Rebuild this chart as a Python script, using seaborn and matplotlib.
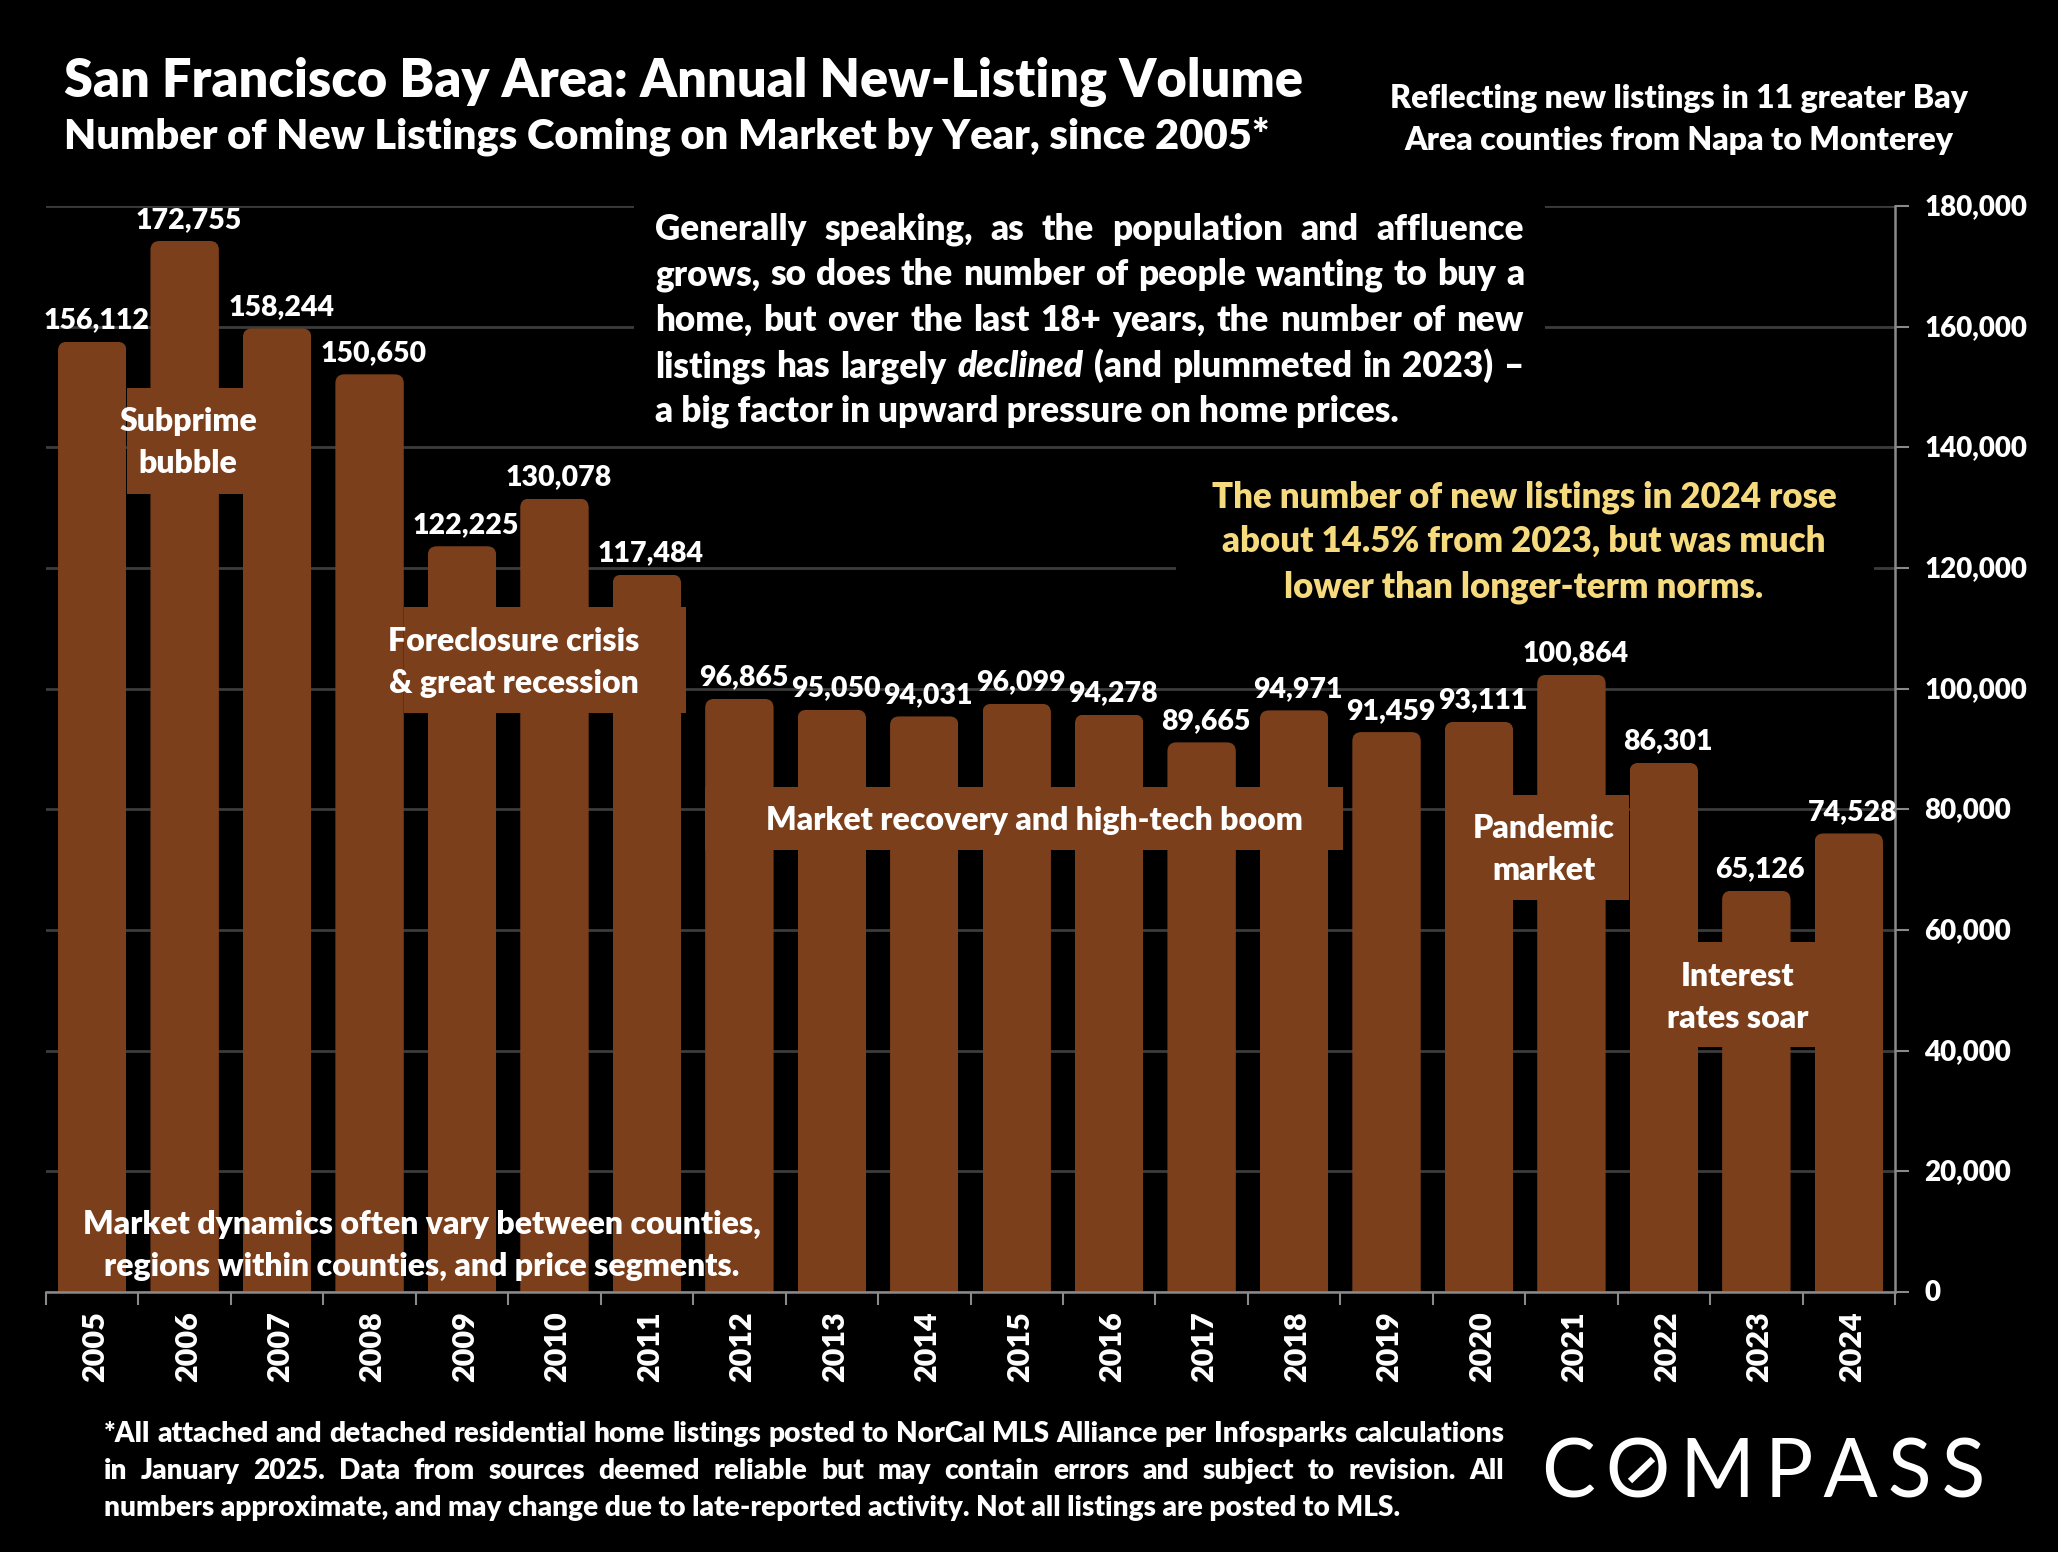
import numpy as np
import pandas as pd
import matplotlib
matplotlib.use("Agg")
import matplotlib.pyplot as plt
import seaborn as sns
from matplotlib.patches import FancyBboxPatch, Rectangle
from matplotlib.transforms import ScaledTranslation

# =====================================================
# DATA
# =====================================================

years = [2005, 2006, 2007, 2008, 2009, 2010, 2011, 2012, 2013, 2014,
         2015, 2016, 2017, 2018, 2019, 2020, 2021, 2022, 2023, 2024]

# printed labels
listings = [156112, 172755, 158244, 150650, 122225, 130078, 117484, 96865, 95050, 94031,
            96099, 94278, 89665, 94971, 91459, 93111, 100864, 86301, 65126, 74528]

# in the source the bars stand a little taller than their labels
bar_heights = [157500, 174200, 159700, 152100, 123600, 131500, 118900, 98300, 96500, 95400,
               97500, 95700, 91100, 96400, 92800, 94500, 102300, 87700, 66500, 76000]

y_ticks = [0, 20000, 40000, 60000, 80000, 100000, 120000, 140000, 160000, 180000]

title = "San Francisco Bay Area: Annual New-Listing Volume"
subtitle = "Number of New Listings Coming on Market by Year, since 2005*"
side_note = ["Reflecting new listings in 11 greater Bay", "Area counties from Napa to Monterey"]
para_lines = [
    "Generally speaking, as the population and affluence",
    "grows, so does the number of people wanting to buy a",
    "home, but over the last 18+ years, the number of new",
    "listings has largely declined (and plummeted in 2023) –",
    "a big factor in upward pressure on home prices.",
]
yellow_lines = [
    "The number of new listings in 2024 rose",
    "about 14.5% from 2023, but was much",
    "lower than longer-term norms.",
]
market_note = ["Market dynamics often vary between counties,", "regions within counties, and price segments."]
foot_lines = [
    "*All attached and detached residential home listings posted to NorCal MLS Alliance per Infosparks calculations",
    "in January 2025. Data from sources deemed reliable but may contain errors and subject to revision. All",
    "numbers approximate, and may change due to late-reported activity. Not all listings are posted to MLS.",
]

BROWN = "#7B3F1C"
YELLOW = "#F6DA7E"
GRID = "#3C3C3C"
AXIS = "#8A8A8A"
WEIGHT = "heavy"

# =====================================================
# SETUP
# =====================================================

sns.set_style("dark", {"axes.facecolor": "black", "figure.facecolor": "black"})
plt.rcParams["font.family"] = ["Lato", "DejaVu Sans"]
plt.rcParams["font.weight"] = WEIGHT

W, H = 2058, 1552
fig = plt.figure(figsize=(W / 100, H / 100), dpi=100, facecolor="black")
ax = fig.add_axes([46 / W, 1 - 1292 / H, (1895 - 46) / W, (1292 - 206) / H])

# =====================================================
# BARS
# =====================================================

df = pd.DataFrame({"year": years, "height": bar_heights})

sns.barplot(data=df, x="year", y="height", color=BROWN, saturation=1,
            width=0.74, edgecolor="none", linewidth=0, ax=ax)

ax.set_xlim(-0.5, 19.5)
ax.set_ylim(0, 180000)

# rounded tops, done by clipping the library's own bars
y_per_px = 180000 / (1292 - 206)
x_per_px = 1 / ((1895 - 46) / 20)
for bar in ax.patches:
    clip = FancyBboxPatch(
        (bar.get_x(), -20000), bar.get_width(), bar.get_height() + 20000,
        boxstyle="round,pad=0,rounding_size=%f" % (9 * x_per_px),
        mutation_aspect=y_per_px / x_per_px,
        transform=ax.transData,
    )
    bar.set_clip_path(clip)

bar_labels = ax.bar_label(ax.containers[0], labels=[f"{v:,}" for v in listings],
                          padding=6, color="white", fontsize=20.5, fontweight=WEIGHT)
for lab in bar_labels:
    lab.xyann = (lab.xyann[0] + 2.9, lab.xyann[1])

# =====================================================
# AXES
# =====================================================

ax.yaxis.tick_right()
ax.set_yticks(y_ticks)
ax.set_yticklabels([f"{v:,}" for v in y_ticks], fontsize=20, color="white")
ax.set_xticks(range(len(years)))
ax.set_xticklabels(years, rotation=90, fontsize=22, color="white")
ax.set_xticks(np.arange(-0.5, 20), minor=True)
ax.set_xlabel("")
ax.set_ylabel("")

ax.tick_params(axis="x", which="major", length=0, pad=14)
ax.tick_params(axis="x", which="minor", length=9, width=1.5, color=AXIS, bottom=True)
ax.tick_params(axis="y", length=10, width=1.5, color=AXIS, pad=11, right=True, left=False)

nudge_x = ScaledTranslation(3 / 100, 0, fig.dpi_scale_trans)
for lab in ax.get_xticklabels():
    lab.set_transform(lab.get_transform() + nudge_x)
nudge_y = ScaledTranslation(0, 1.5 / 100, fig.dpi_scale_trans)
for lab in ax.get_yticklabels():
    lab.set_transform(lab.get_transform() + nudge_y)

ax.grid(False)
ax.yaxis.grid(True, color=GRID, linewidth=2)
ax.set_axisbelow(True)

for side in ["left", "top"]:
    ax.spines[side].set_visible(False)
for side in ["right", "bottom"]:
    ax.spines[side].set_visible(True)
    ax.spines[side].set_color(AXIS)
    ax.spines[side].set_linewidth(1.8)

# =====================================================
# OVERLAY IN IMAGE PIXELS: BOXES, NOTES, LOGO
# =====================================================

ov = fig.add_axes([0, 0, 1, 1], facecolor="none")
ov.set_xlim(0, W)
ov.set_ylim(H, 0)
ov.axis("off")


def box(x0, y0, x1, y1, color):
    ov.add_patch(Rectangle((x0, y0), x1 - x0, y1 - y0, facecolor=color, edgecolor="none"))


def put(x, y, s, size, ha="center", color="white"):
    return ov.text(x, y, s, fontsize=size, ha=ha, va="baseline", color=color, fontweight=WEIGHT)


def justify(x0, x1, y, line, size, italic=()):
    # word by word so the line fills x0..x1
    renderer = fig.canvas.get_renderer()
    words = []
    for w in line.split(" "):
        t = ov.text(0, y, w, fontsize=size, ha="left", va="baseline", color="white",
                    fontweight=WEIGHT, fontstyle="italic" if w in italic else "normal")
        words.append(t)
    widths = [t.get_window_extent(renderer).width for t in words]
    gap = (x1 - x0 - sum(widths)) / (len(words) - 1)
    x = x0
    for t, w in zip(words, widths):
        t.set_x(x)
        x += w + gap


# black panels that hide the gridlines behind the notes
box(634, 190, 1545, 435, "black")
box(1176, 472, 1874, 612, "black")

# brown label boxes joining the bars
box(127, 388, 243, 494, BROWN)
box(404, 607, 686, 713, BROWN)
box(705, 787, 1343, 850, BROWN)
box(1512, 795, 1629, 900, BROWN)
box(1698, 942, 1815, 1047, BROWN)

put(188, 431, "Subprime", 23)
put(188, 473, "bubble", 23)
put(514, 651, "Foreclosure crisis", 23)
put(514, 693, "& great recession", 23)
put(1034, 830, "Market recovery and high-tech boom", 23)
put(1544, 838, "Pandemic", 23)
put(1544, 880, "market", 23)
put(1738, 986, "Interest", 23)
put(1738, 1028, "rates soar", 23)

# titles
put(64, 97, title, 37.6, ha="left")
put(64, 148, subtitle, 30, ha="left")
put(1679, 108, side_note[0], 23)
put(1679, 150, side_note[1], 23)

# main paragraph
para_y = [240, 285, 331, 377, 421]
for i, line in enumerate(para_lines):
    if i < 4:
        justify(655, 1524, para_y[i], line, 25.2, italic=("declined",))
    else:
        put(655, para_y[i], line, 25.2, ha="left")

for y, line in zip([507, 552, 597], yellow_lines):
    put(1524, y, line, 25, color=YELLOW)

put(422, 1234, market_note[0], 23)
put(422, 1276, market_note[1], 23)

# footnote
foot_y = [1442, 1479, 1516]
justify(104, 1504, foot_y[0], foot_lines[0], 20.2)
justify(104, 1504, foot_y[1], foot_lines[1], 20.2)
put(104, foot_y[2], foot_lines[2], 20.2, ha="left")

# logo
ov.text(1542, 1497, "\u200a\u200a".join("COMPASS"), fontsize=58, color="white", ha="left",
        va="baseline", fontweight="normal")
ov.plot([1630, 1653], [1481, 1459], color="white", linewidth=4.5, solid_capstyle="butt")

fig.savefig("out.png", dpi=100, facecolor="black")
